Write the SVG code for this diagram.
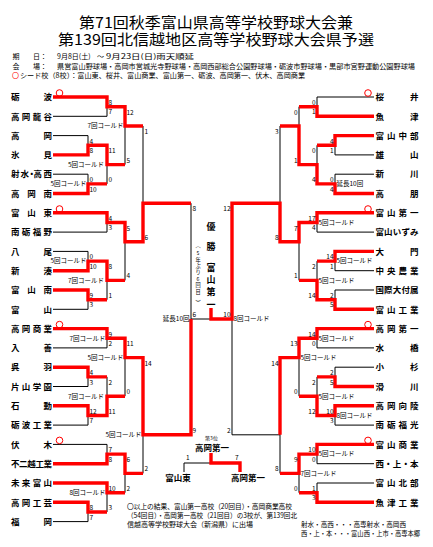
<svg xmlns="http://www.w3.org/2000/svg" width="433" height="547" viewBox="0 0 433 547">
<style>
text{font-family:"Noto Sans CJK JP","Noto Sans CJK SC",sans-serif;fill:#000}
.t{font-size:15px;text-anchor:middle}
.i{font-size:7px}
.n{font-size:8.5px;font-weight:bold}
.s{font-size:6.5px}
.sr{font-size:6.5px;text-anchor:end}
.l{font-size:6.5px;text-anchor:end}
.lr{font-size:6.5px}
.bk{fill:none;stroke:#000;stroke-width:1}
.rd{fill:none;stroke:#f00;stroke-width:3.4;stroke-linejoin:miter}
.seed{fill:none;stroke:#f00;stroke-width:1}
.v{font-size:9px;font-weight:bold;text-anchor:middle}
.vs{font-size:5.2px;text-anchor:middle}
</style>
<rect width="433" height="547" fill="#fff"/>
<g id="header">
<text class="t" x="216" y="27.6" textLength="274" lengthAdjust="spacingAndGlyphs">第71回秋季富山県高等学校野球大会兼</text>
<text class="t" x="216" y="44.6" textLength="316" lengthAdjust="spacingAndGlyphs">第139回北信越地区高等学校野球大会県予選</text>
<text class="i" x="12.5" y="59.2">期</text><text class="i" x="33" y="59.2">日：</text>
<text class="i" x="57" y="59.2">9月8日(土)</text><text class="i" x="97" y="59.2">～</text>
<text class="i" x="106" y="59.2" textLength="88" lengthAdjust="spacingAndGlyphs">9月23日(日)雨天順延</text>
<text class="i" x="12.5" y="69">会</text><text class="i" x="33" y="69">場：</text>
<text class="i" x="57" y="69" textLength="358" lengthAdjust="spacingAndGlyphs">県営富山野球場・高岡市営城光寺野球場・高岡西部総合公園野球場・砺波市野球場・黒部市宮野運動公園野球場</text>
<text class="i" x="12" y="77.5" style="fill:#f00">〇</text>
<text class="i" x="20" y="77.5" textLength="285" lengthAdjust="spacingAndGlyphs">シード校（8校）：富山東、桜井、富山商業、富山第一、砺波、高岡第一、伏木、高岡商業</text>
</g>
<g id="connectors">
<path class="bk" d="M53 97H107M53 116.3H107M53 135.6H88M53 154.9H88M53 174.2H88M53 193.5H88M53 212.8H107M53 232.1H107M53 251.4H88M53 270.7H88M53 290H88M53 309.3H88M53 328.6H107M53 347.9H107M53 367.2H88M53 386.5H88M53 405.8H88M53 425.1H88M53 444.4H107M53 463.7H107M53 483H107M53 502.3H88M53 521.6H88
M88 135.6V154.9M88 174.2V193.5M88 251.4V270.7M88 290V309.3M88 367.2V386.5M88 405.8V425.1M88 502.3V521.6
M107 97V116.3M107 145.3V183.9M107 212.8V232.1M107 261.1V299.7M107 328.6V347.9M107 376.9V415.5M107 444.4V463.7M107 483V512
M125 106.7V164.6M125 222.5V280.4M125 338.3V396.2M125 454.1V492.7
M143 126V241.8M143 357.6V473.4M191 203.2V434.8M191 319H232
M374 97H317M374 116.3H317M374 135.6H335M374 154.9H335M374 174.2H335M374 193.5H335M374 212.8H317M374 232.1H317M374 251.4H335M374 270.7H335M374 290H335M374 309.3H335M374 328.6H317M374 347.9H317M374 367.2H335M374 386.5H335M374 405.8H335M374 425.1H335M374 444.4H317M374 463.7H317M374 483H317M374 502.3H317
M335 135.6V154.9M335 174.2V193.5M335 251.4V270.7M335 290V309.3M335 367.2V386.5M335 405.8V425.1
M317 97V116.3M317 145.3V183.9M317 212.8V232.1M317 261.1V299.7M317 328.6V347.9M317 376.9V415.5M317 444.4V463.7M317 483V502.3
M299 106.7V164.6M299 222.5V280.4M299 338.3V396.2M299 454.1V492.7
M280 126V241.8M280 357.6V473.4M232 203.2V434.8M280 434.8H232
M211 463H184V472"/>
<path class="rd" d="M53 97H107V106.7H125V126H143M53 154.9H88V145.3H107V164.6H125M53 193.5H88V183.9H107M53 212.8H107V222.5H125V241.8H143V203.2H191M53 270.7H88V261.1H107V280.4H125M53 290H88V299.7H107M53 328.6H107V338.3H125V357.6H143V434.8H191V319M53 367.2H88V376.9H107M53 405.8H88V415.5H107V396.2H125M53 463.7H107V454.1H125V473.4H143M53 483H107V492.7H125M53 502.3H88V512H107"/>
<path class="rd" d="M374 116.3H317V106.7H299M374 135.6H335V145.3H317M374 193.5H335V183.9H317V164.6H299V126H280M374 212.8H317V222.5H299V241.8H280V203.2H232V319H211V308M374 251.4H335V261.1H317M374 309.3H335V299.7H317V280.4H299M374 328.6H317V338.3H299V357.6H280V434.8M374 386.5H335V376.9H317M374 405.8H335V415.5H317V396.2H299M374 444.4H317V454.1H299V473.4H280M374 502.3H317V492.7H299"/>
<path class="rd" d="M211 453V463H240V472"/>
</g>
<g id="t-tonami"><text class="n" x="11 43.5" y="100.2">砺波</text><circle class="seed" cx="59.5" cy="93" r="3.3"/></g>
<g id="t-takaoka-ryukoku"><text class="n" x="11 21.8 32.7 43.5" y="119.5">高岡龍谷</text></g>
<g id="t-takaoka"><text class="n" x="11 43.5" y="138.8">高岡</text></g>
<g id="t-himi"><text class="n" x="11 43.5" y="158.1">氷見</text></g>
<g id="t-imizu-kosei"><text class="n" x="11 20.5 27.5 33.5 43.5" y="177.4">射水・高西</text></g>
<g id="t-takaoka-minami"><text class="n" x="11 27.3 43.5" y="196.7">高岡南</text></g>
<g id="t-toyama-higashi"><text class="n" x="11 27.3 43.5" y="216">富山東</text><circle class="seed" cx="59.5" cy="209" r="3.3"/></g>
<g id="t-nanto-fukuno"><text class="n" x="11 21.8 32.7 43.5" y="235.3">南砺福野</text></g>
<g id="t-yao"><text class="n" x="11 43.5" y="254.6">八尾</text></g>
<g id="t-shinminato"><text class="n" x="11 43.5" y="273.9">新湊</text></g>
<g id="t-toyama-minami"><text class="n" x="11 27.3 43.5" y="293.2">富山南</text></g>
<g id="t-toyama"><text class="n" x="11 43.5" y="312.5">富山</text></g>
<g id="t-takaoka-shogyo"><text class="n" x="11 21.8 32.7 43.5" y="331.8">高岡商業</text><circle class="seed" cx="59.5" cy="324.6" r="3.3"/></g>
<g id="t-nyuzen"><text class="n" x="11 43.5" y="351.1">入善</text></g>
<g id="t-kureha"><text class="n" x="11 43.5" y="370.4">呉羽</text></g>
<g id="t-katayama"><text class="n" x="11 21.8 32.7 43.5" y="389.7">片山学園</text></g>
<g id="t-isurugi"><text class="n" x="11 43.5" y="409">石動</text></g>
<g id="t-tonami-kogyo"><text class="n" x="11 21.8 32.7 43.5" y="428.3">砺波工業</text></g>
<g id="t-fushiki"><text class="n" x="11 43.5" y="447.6">伏木</text><circle class="seed" cx="59.5" cy="440.4" r="3.3"/></g>
<g id="t-fujikoshi"><text class="n" x="11 19.1 27.3 35.4 43.5" y="466.9">不二越工業</text></g>
<g id="t-mirai"><text class="n" x="11 21.8 32.7 43.5" y="486.2">未来富山</text></g>
<g id="t-takaoka-kogei"><text class="n" x="11 21.8 32.7 43.5" y="505.5">高岡工芸</text></g>
<g id="t-fukuoka"><text class="n" x="11 43.5" y="524.8">福岡</text></g>
<g id="t-sakurai"><text class="n" x="375.5 410" y="100.2">桜井</text><circle class="seed" cx="368" cy="93" r="3.3"/></g>
<g id="t-uozu"><text class="n" x="375.5 410" y="119.5">魚津</text></g>
<g id="t-toyama-chubu"><text class="n" x="375.5 387 398.5 410" y="138.8">富山中部</text></g>
<g id="t-yuzan"><text class="n" x="375.5 410" y="158.1">雄山</text></g>
<g id="t-shinkawa"><text class="n" x="375.5 410" y="177.4">新川</text></g>
<g id="t-takaho"><text class="n" x="375.5 410" y="196.7">高朋</text></g>
<g id="t-toyama-daiichi"><text class="n" x="375.5 387 398.5 410" y="216">富山第一</text><circle class="seed" cx="368" cy="209" r="3.3"/></g>
<g id="t-toyama-izumi"><text class="n" x="375.5 384.1 392.8 401.4 410" y="235.3">富山いずみ</text></g>
<g id="t-daimon"><text class="n" x="375.5 410" y="254.6">大門</text></g>
<g id="t-chuo-nogyo"><text class="n" x="375.5 387 398.5 410" y="273.9">中央農業</text></g>
<g id="t-kokusai"><text class="n" x="375.5 384.1 392.8 401.4 410" y="293.2">国際大付属</text></g>
<g id="t-toyama-kogyo"><text class="n" x="375.5 387 398.5 410" y="312.5">富山工業</text></g>
<g id="t-takaoka-daiichi"><text class="n" x="375.5 387 398.5 410" y="331.8">高岡第一</text><circle class="seed" cx="368" cy="324.6" r="3.3"/></g>
<g id="t-mizuhashi"><text class="n" x="375.5 410" y="351.1">水橋</text></g>
<g id="t-kosugi"><text class="n" x="375.5 410" y="370.4">小杉</text></g>
<g id="t-namerikawa"><text class="n" x="375.5 410" y="389.7">滑川</text></g>
<g id="t-takaoka-koryo"><text class="n" x="375.5 387 398.5 410" y="409">高岡向陵</text></g>
<g id="t-nanto-fukumitsu"><text class="n" x="375.5 387 398.5 410" y="428.3">南砺福光</text></g>
<g id="t-toyama-shogyo"><text class="n" x="375.5 387 398.5 410" y="447.6">富山商業</text><circle class="seed" cx="368" cy="440.4" r="3.3"/></g>
<g id="t-nishi-kami-hon"><text class="n" x="375.5 384.1 392.8 401.4 410" y="466.9">西・上・本</text></g>
<g id="t-toyama-hokubu"><text class="n" x="375.5 387 398.5 410" y="486.2">富山北部</text></g>
<g id="t-uozu-kogyo"><text class="n" x="375.5 387 398.5 410" y="505.5">魚津工業</text></g>
<g id="scores">
<text class="s" x="108.5" y="105">8</text><text class="s" x="108.5" y="114.3">7</text>
<text class="s" x="89.5" y="143.6">4</text><text class="s" x="89.5" y="152.9">8</text>
<text class="s" x="89.5" y="182.2">0</text><text class="s" x="89.5" y="191.5">10</text>
<text class="s" x="108.5" y="153.3">11</text><text class="s" x="108.5" y="181.9">0</text>
<text class="s" x="126.5" y="114.7">12</text><text class="s" x="126.5" y="162.6">5</text>
<text class="s" x="108.5" y="220.8">4</text><text class="s" x="108.5" y="230.1">3</text>
<text class="s" x="89.5" y="259.4">0</text><text class="s" x="89.5" y="268.7">10</text>
<text class="s" x="89.5" y="298">9</text><text class="s" x="89.5" y="307.3">3</text>
<text class="s" x="108.5" y="269.1">8</text><text class="s" x="108.5" y="297.7">1</text>
<text class="s" x="126.5" y="230.5">5</text><text class="s" x="126.5" y="278.4">4</text>
<text class="s" x="144.5" y="134">1</text><text class="s" x="144.5" y="239.8">6</text>
<text class="s" x="108.5" y="336.6">9</text><text class="s" x="108.5" y="345.9">2</text>
<text class="s" x="89.5" y="375.2">4</text><text class="s" x="89.5" y="384.5">3</text>
<text class="s" x="89.5" y="413.8">12</text><text class="s" x="89.5" y="423.1">7</text>
<text class="s" x="108.5" y="384.9">2</text><text class="s" x="108.5" y="413.5">11</text>
<text class="s" x="126.5" y="346.3">11</text><text class="s" x="126.5" y="394.2">0</text>
<text class="s" x="108.5" y="452.4">7</text><text class="s" x="108.5" y="461.7">8</text>
<text class="s" x="89.5" y="510.3">8</text><text class="s" x="89.5" y="519.6">7</text>
<text class="s" x="108.5" y="491">10</text><text class="s" x="108.5" y="510">3</text>
<text class="s" x="126.5" y="462.1">6</text><text class="s" x="126.5" y="490.7">2</text>
<text class="s" x="144.5" y="365.6">14</text><text class="s" x="144.5" y="471.4">2</text>
<text class="s" x="192.5" y="211.2">8</text><text class="s" x="192.5" y="432.8">9</text>
<text class="s" x="192.5" y="317">6</text><text class="sr" x="230.5" y="317">10</text>
<text class="sr" x="315.5" y="105">0</text><text class="sr" x="315.5" y="114.3">1</text>
<text class="sr" x="333.5" y="143.6">4</text><text class="sr" x="333.5" y="152.9">1</text>
<text class="sr" x="333.5" y="182.2">0</text><text class="sr" x="333.5" y="191.5">4</text>
<text class="sr" x="315.5" y="153.3">0</text><text class="sr" x="315.5" y="181.9">4</text>
<text class="sr" x="297.5" y="114.7">0</text><text class="sr" x="297.5" y="162.6">1</text>
<text class="sr" x="315.5" y="220.8">17</text><text class="sr" x="315.5" y="230.1">4</text>
<text class="sr" x="333.5" y="259.4">14</text><text class="sr" x="333.5" y="268.7">1</text>
<text class="sr" x="333.5" y="298">2</text><text class="sr" x="333.5" y="307.3">5</text>
<text class="sr" x="315.5" y="269.1">2</text><text class="sr" x="315.5" y="297.7">14</text>
<text class="sr" x="297.5" y="230.5">7</text><text class="sr" x="297.5" y="278.4">1</text>
<text class="sr" x="278.5" y="134">3</text><text class="sr" x="278.5" y="239.8">8</text>
<text class="sr" x="315.5" y="336.6">14</text><text class="sr" x="315.5" y="345.9">0</text>
<text class="sr" x="333.5" y="375.2">2</text><text class="sr" x="333.5" y="384.5">5</text>
<text class="sr" x="333.5" y="413.8">10</text><text class="sr" x="333.5" y="423.1">3</text>
<text class="sr" x="315.5" y="384.9">2</text><text class="sr" x="315.5" y="413.5">12</text>
<text class="sr" x="297.5" y="346.3">13</text><text class="sr" x="297.5" y="394.2">0</text>
<text class="sr" x="315.5" y="452.4">10</text><text class="sr" x="315.5" y="461.7">0</text>
<text class="sr" x="315.5" y="491">1</text><text class="sr" x="315.5" y="500.3">3</text>
<text class="sr" x="297.5" y="462.1">9</text><text class="sr" x="297.5" y="490.7">0</text>
<text class="sr" x="278.5" y="365.6">14</text><text class="sr" x="278.5" y="471.4">8</text>
<text class="sr" x="230.5" y="211.2">12</text><text class="sr" x="230.5" y="432.8">2</text>
<text class="s" x="186" y="459.5">1</text><text class="sr" x="238.5" y="459.5">7</text>
</g>
<g id="labels">
<text class="l" x="86.5" y="186.2">5回コールド</text>
<text class="l" x="104" y="166.9">5回コールド</text>
<text class="l" x="123.5" y="128.3">7回コールド</text>
<text class="l" x="86.5" y="263.4">5回コールド</text>
<text class="l" x="104" y="282.7">7回コールド</text>
<text class="l" x="105.5" y="340.6">7回コールド</text>
<text class="l" x="104" y="398.5">7回コールド</text>
<text class="l" x="123.5" y="359.9">5回コールド</text>
<text class="l" x="105.5" y="495">8回コールド</text>
<text class="l" x="141.5" y="437.1">5回コールド</text>
<text class="l" x="189.5" y="321.3">延長10回</text>
<text class="lr" x="336.5" y="186.2">延長10回</text>
<text class="lr" x="318.5" y="224.8">5回コールド</text>
<text class="lr" x="336.5" y="263.4">5回コールド</text>
<text class="lr" x="318.5" y="282.7">5回コールド</text>
<text class="lr" x="318.5" y="340.6">5回コールド</text>
<text class="lr" x="336.5" y="417.8">8回コールド</text>
<text class="lr" x="318.5" y="398.5">5回コールド</text>
<text class="lr" x="300.5" y="359.9">5回コールド</text>
<text class="lr" x="318.5" y="456.4">5回コールド</text>
<text class="lr" x="300.5" y="475.7">7回コールド</text>
<text class="lr" x="233.5" y="321.3">8回コールド</text>
</g>
<g id="champion">
<text class="v" x="211" y="230.4">優</text>
<text class="v" x="211" y="250.1">勝</text>
<text class="v" x="211" y="270.7">富</text>
<text class="v" x="211" y="282.7">山</text>
<text class="v" x="211" y="295.1">第</text>
<text class="v" x="211" y="308.4">一</text>
<text class="vs" x="198" y="247.2">︵</text>
<text class="vs" x="198" y="254.6">5</text>
<text class="vs" x="198" y="261.6">年</text>
<text class="vs" x="198" y="268">ぶ</text>
<text class="vs" x="198" y="274.4">り</text>
<text class="vs" x="198" y="280.6">6</text>
<text class="vs" x="198" y="287">回</text>
<text class="vs" x="198" y="293.6">目</text>
<text class="vs" x="198" y="305">︶</text>
</g>
<g id="third-place">
<text x="211.5" y="440" style="font-size:5px;text-anchor:middle">第3位</text>
<text class="n" x="212" y="451" style="text-anchor:middle">高岡第一</text>
<text class="n" x="178" y="480.5" style="text-anchor:middle">富山東</text>
<text class="n" x="248" y="480.5" style="text-anchor:middle">高岡第一</text>
</g>
<g id="notes">
<text class="i" x="127" y="508.5" textLength="165" lengthAdjust="spacingAndGlyphs">〇以上の結果、富山第一高校（20回目）・高岡商業高校</text>
<text class="i" x="127" y="517.5" textLength="170" lengthAdjust="spacingAndGlyphs">（54回目）・高岡第一高校（21回目）の3校が、第139回北</text>
<text class="i" x="127" y="526.5">信越高等学校野球大会（新潟県）に出場</text>
<text class="i" x="301" y="526.5" textLength="105" lengthAdjust="spacingAndGlyphs">射水・高西・・・高専射水・高岡西</text>
<text class="i" x="301" y="535.5" textLength="119" lengthAdjust="spacingAndGlyphs">西・上・本・・・富山西・上市・高専本郷</text>
</g>
</svg>
